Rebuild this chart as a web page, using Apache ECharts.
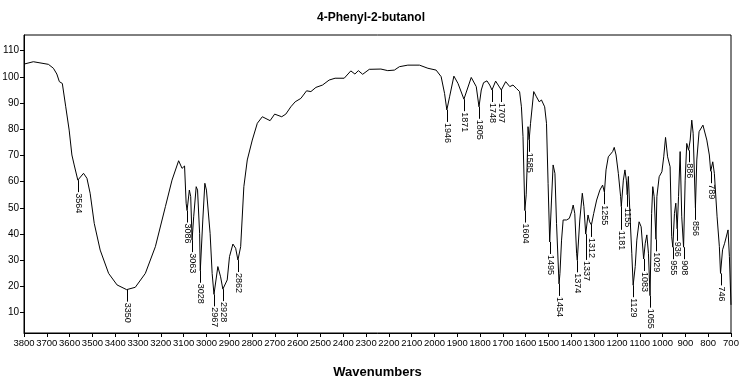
<!DOCTYPE html>
<html>
<head>
<meta charset="utf-8">
<script src="https://cdn.jsdelivr.net/npm/echarts@6/dist/echarts.min.js"></script>
<style>
  html, body { margin: 0; padding: 0; background: #fff; }
  #chart { width: 742px; height: 383px; }
</style>
</head>
<body>
<div id="chart"></div>
<script>
const title = '4-Phenyl-2-butanol';
const xAxisName = 'Wavenumbers';

const wavenumbers = [
  3800,3759,3693,3671,3656,3645,3632,3617,3602,3590,3580,3564,3539,3524,3510,3492,3466,3429,3392,3350,
  3312,3268,3224,3180,3151,3122,3107,3096,3089,3085,3075,3069,3063,3056,3045,3039,3030,3027,3016,3007,
  3000,2994,2984,2975,2967,2950,2938,2928,2909,2899,2884,2872,2862,2850,2836,2821,2799,2777,2755,2721,
  2701,2670,2652,2630,2611,2586,2561,2542,2520,2491,2462,2436,2396,2367,2349,2334,2315,2286,2235,2205,
  2176,2154,2117,2066,2029,1993,1971,1956,1946,1934,1915,1897,1871,1839,1817,1805,1795,1785,1770,1758,
  1748,1732,1721,1707,1688,1670,1656,1641,1627,1619,1612,1604,1598,1594,1590,1585,1579,1565,1553,1541,
  1531,1517,1509,1502,1495,1487,1480,1472,1465,1454,1450,1443,1436,1429,1421,1409,1399,1392,1385,1377,
  1374,1363,1352,1345,1337,1327,1320,1312,1302,1289,1275,1263,1255,1248,1238,1231,1219,1212,1204,1194,
  1184,1181,1172,1165,1159,1155,1150,1142,1135,1129,1120,1113,1103,1094,1083,1076,1069,1062,1055,1048,
  1043,1037,1029,1025,1015,1003,995,987,978,967,960,955,948,942,936,930,923,916,908,901,
  894,886,879,872,866,856,850,840,823,806,795,789,780,773,761,751,746,737,728,713,
  707,700
];
const transmittance = [
  104.9,105.8,104.8,103.3,101.1,98.2,97.5,88.6,79.7,70.2,66.4,60.6,63.2,61.3,55.6,44.1,33.9,25.0,20.6,18.8,
  19.7,25.0,35.2,50.5,60.6,68.0,65.1,66.0,51.8,49.0,56.8,54.3,37.7,46.6,58.1,56.8,40.3,26.0,45.4,59.4,
  56.8,56.8,40.3,25.0,17.0,27.6,23.7,19.0,22.5,31.4,36.2,34.6,30.1,35.2,58.1,68.3,75.9,82.3,84.8,83.3,
  85.8,84.8,85.8,88.6,90.5,91.8,94.7,94.4,96.0,96.9,98.8,99.5,99.5,102.3,101.1,102.4,101.0,102.9,103.0,102.4,
  102.6,103.9,104.5,104.5,103.3,102.6,100.1,93.7,87.4,92.4,100.3,97.5,91.5,99.8,96.3,88.6,95.0,97.8,98.5,96.9,
  95.0,98.4,96.9,95.0,98.2,96.3,96.9,95.6,94.4,88.6,77.2,49.0,55.0,65.7,81.0,76.0,82.3,94.4,92.4,90.5,
  91.2,88.6,82.3,59.4,37.0,53.0,66.4,63.2,44.1,21.0,25.0,37.7,45.4,44.7,45.4,46.0,48.5,51.1,47.9,32.7,
  30.0,45.4,55.6,50.5,40.0,47.3,44.7,43.5,47.9,53.0,56.8,58.7,56.0,64.5,69.5,70.2,71.5,73.1,70.2,63.2,
  54.3,50.5,60.6,64.5,60.6,55.0,62.0,45.4,32.7,20.5,27.6,37.7,44.7,42.8,30.5,36.5,39.7,32.7,16.5,47.9,
  58.1,54.3,38.0,54.3,61.9,63.8,69.5,76.9,69.5,65.7,39.0,35.0,47.9,51.8,42.0,54.3,71.5,46.6,35.0,60.6,
  74.6,72.0,75.9,83.5,78.5,50.0,68.3,79.1,81.6,75.9,70.2,64.0,67.6,63.2,46.6,35.2,25.0,34.0,36.5,41.6,
  31.4,13.0
];

const peakWavenumbers = [3564,3350,3086,3063,3028,2967,2928,2862,1946,1871,1805,1748,1707,1604,1585,1495,1454,1374,1337,1312,1255,1181,1155,1129,1083,1055,1029,955,936,908,886,856,789,746];
const peakTransmittance = [60.6,18.8,49.0,37.7,26.0,17.0,19.0,30.1,87.4,91.5,88.6,95.0,95.0,49.0,76.0,37.0,21.0,30.0,40.0,43.5,56.0,50.5,55.0,20.5,30.5,16.5,38.0,35.0,42.0,35.0,72.0,50.0,64.0,25.0];

const yTickValues = [10,20,30,40,50,60,70,80,90,100,110];

const spectrum = wavenumbers.map((w, i) => [w, transmittance[i]]);
const peaks = peakWavenumbers.map((w, i) => [w, peakTransmittance[i]]);

const FONT = '"Liberation Sans", Arial, sans-serif';
const LABEL_FONT = '9px ' + FONT;
const LEAD = 12;

// simple collision layout for the peak labels, computed from the axis scales
let labelLayout = null;
function computeLayout(api) {
  const items = peaks.map((d, i) => {
    const p = api.coord(d);
    const len = String(peakWavenumbers[i]).length * 5 + 1;
    return { i, x: Math.round(p[0]) + 0.5, y: p[1], top: p[1] + LEAD + 1, len };
  });
  const order = items.slice().sort((a, b) => a.y - b.y);
  const placed = [];
  order.forEach(it => {
    let moved = true;
    while (moved) {
      moved = false;
      for (const q of placed) {
        if (Math.abs(q.x - it.x) < 8 && it.top < q.top + q.len + 1 && it.top + it.len > q.top - 1) {
          it.top = q.top + q.len + 2;
          moved = true;
        }
      }
    }
    placed.push(it);
  });
  const res = [];
  items.forEach(it => { res[it.i] = it; });
  return res;
}

const chart = echarts.init(document.getElementById('chart'), null, { renderer: 'canvas' });

chart.setOption({
  animation: false,
  backgroundColor: '#fff',
  title: {
    text: title,
    left: 'center',
    top: 7,
    textStyle: { fontSize: 12, fontWeight: 'bold', color: '#000', fontFamily: FONT }
  },
  grid: {
    left: 24, right: 11, top: 35, bottom: 50,
    outerBoundsMode: 'none',
    containLabel: false,
    show: true, borderColor: '#000', borderWidth: 1, backgroundColor: 'transparent'
  },
  xAxis: {
    type: 'value',
    inverse: true,
    min: 700, max: 3800, interval: 100,
    name: xAxisName,
    nameLocation: 'middle',
    nameGap: 33,
    nameTextStyle: { fontSize: 13, fontWeight: 'bold', color: '#000', fontFamily: FONT },
    axisLine: { show: true, onZero: false, lineStyle: { color: '#000', width: 1 } },
    axisTick: { show: true, length: 4, lineStyle: { color: '#000' } },
    axisLabel: {
      color: '#000', fontSize: 9.5, margin: 5, fontFamily: FONT,
      showMinLabel: true, showMaxLabel: true, hideOverlap: false,
      formatter: v => String(v)
    },
    splitLine: { show: false }
  },
  yAxis: {
    type: 'value',
    min: 2.25, max: 116,
    axisLine: { show: true, onZero: false, lineStyle: { color: '#000', width: 1 } },
    axisTick: { show: true, length: 4, lineStyle: { color: '#000' }, customValues: yTickValues },
    axisLabel: { color: '#000', fontSize: 10, margin: 5, customValues: yTickValues, fontFamily: FONT, formatter: v => String(v) },
    splitLine: { show: false }
  },
  series: [
    {
      type: 'line',
      data: spectrum,
      showSymbol: false,
      symbol: 'none',
      lineStyle: { color: '#000', width: 1 },
      z: 3
    },
    {
      type: 'custom',
      data: peaks,
      clip: false,
      z: 4,
      renderItem: function (params, api) {
        if (params.dataIndex === 0 || !labelLayout) labelLayout = computeLayout(api);
        const it = labelLayout[params.dataIndex];
        return {
          type: 'group',
          children: [
            { type: 'line', shape: { x1: it.x, y1: it.y, x2: it.x, y2: it.top - 1 }, style: { stroke: '#000', lineWidth: 1 } },
            { type: 'text', x: it.x, y: it.top, rotation: -Math.PI / 2,
              style: { text: String(peakWavenumbers[params.dataIndex]), font: LABEL_FONT, fill: '#000', align: 'left', verticalAlign: 'middle' } }
          ]
        };
      }
    }
  ]
});
</script>
</body>
</html>
